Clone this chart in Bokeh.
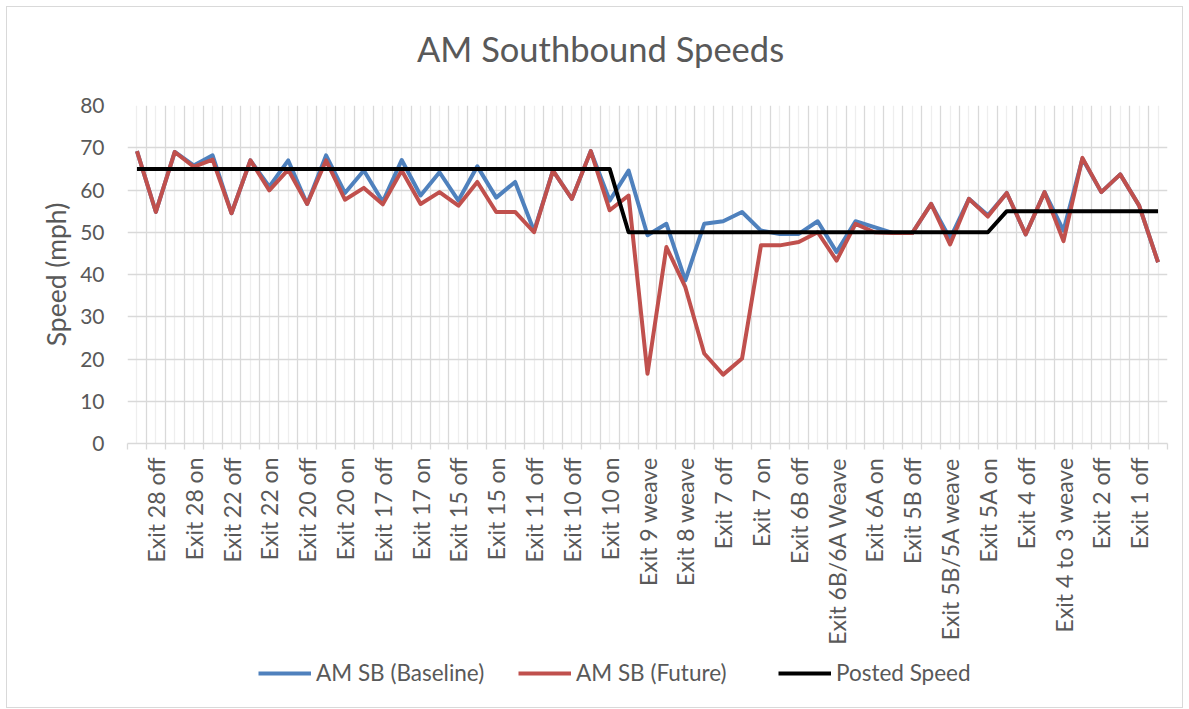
import math
from bokeh.plotting import figure
from bokeh.models import FixedTicker, Grid, Legend, LegendItem, Range1d, Label
from bokeh.layouts import column
from bokeh.embed import file_html
from bokeh.resources import INLINE

# Category labels shown on the axis (every other segment)
tick_labels = [
    "Exit 28 off", "Exit 28 on", "Exit 22 off", "Exit 22 on", "Exit 20 off",
    "Exit 20 on", "Exit 17 off", "Exit 17 on", "Exit 15 off", "Exit 15 on",
    "Exit 11 off", "Exit 10 off", "Exit 10 on", "Exit 9 weave", "Exit 8 weave",
    "Exit 7 off", "Exit 7 on", "Exit 6B off", "Exit 6B/6A Weave", "Exit 6A on",
    "Exit 5B off", "Exit 5B/5A weave", "Exit 5A on", "Exit 4 off",
    "Exit 4 to 3 weave", "Exit 2 off", "Exit 1 off",
]

baseline = [
    69.2, 54.8, 69.0, 65.8, 68.2, 54.5, 67.0, 60.8, 67.0, 56.7,
    68.2, 59.3, 64.6, 57.2, 67.1, 58.7, 64.2, 57.5, 65.6, 58.2,
    61.9, 50.3, 64.6, 57.9, 69.2, 57.5, 64.6, 49.3, 52.0, 38.6,
    52.0, 52.6, 54.8, 50.4, 49.6, 49.6, 52.6, 45.3, 52.6, 51.2,
    49.8, 49.8, 56.7, 48.5, 57.9, 54.0, 59.3, 49.5, 59.5, 50.4,
    67.4, 59.5, 63.7, 56.3, 42.9,
]

future = [
    69.2, 54.8, 69.0, 65.5, 67.2, 54.5, 67.0, 59.9, 64.8, 56.7,
    67.0, 57.7, 60.5, 56.6, 64.6, 56.7, 59.5, 56.3, 61.9, 54.8,
    54.8, 50.0, 64.6, 57.9, 69.2, 55.2, 58.7, 16.5, 46.5, 37.0,
    21.3, 16.3, 20.1, 46.9, 46.9, 47.7, 50.0, 43.3, 52.0, 50.0,
    49.8, 49.8, 56.7, 47.1, 57.9, 53.7, 59.3, 49.5, 59.5, 47.9,
    67.6, 59.5, 63.7, 56.3, 42.9,
]

posted = [65] * 26 + [50] * 20 + [55] * 9

series_names = ["AM SB (Baseline)", "AM SB (Future)", "Posted Speed"]
series_colors = ["#4F81BD", "#C0504D", "#000000"]
title_text = "AM Southbound Speeds"

n = len(baseline)
xs = list(range(1, n + 1))
all_series = [baseline, future, posted]
FONT = "Lato"
GRAY = "#595959"
W = 1175


def blank(h):
    f = figure(width=W, height=h, output_backend="svg", toolbar_location=None,
               x_axis_type=None, y_axis_type=None,
               x_range=Range1d(0, 1), y_range=Range1d(0, 1),
               min_border_left=120, min_border_right=15,
               min_border_top=0, min_border_bottom=0)
    f.outline_line_color = None
    f.background_fill_color = "white"
    f.border_fill_color = "white"
    return f


# ---- title strip (frame aligned with the chart frame: left edge at 120) ----
t = blank(70)
t.add_layout(Label(x=473, y=29, x_units="screen", y_units="screen", text=title_text,
                   text_align="center", text_baseline="middle", text_font=FONT,
                   text_font_size="34.5px", text_color=GRAY))

# ---- main chart ----
p = figure(width=W, height=580, output_backend="svg", toolbar_location=None,
           x_range=Range1d(0.5, n + 0.5), y_range=Range1d(0, 80),
           min_border_left=120, min_border_right=15,
           min_border_top=28, min_border_bottom=214)
p.outline_line_color = None
p.background_fill_color = "white"
p.border_fill_color = "white"

p.xgrid.grid_line_color = None
p.ygrid.grid_line_color = None
centers = [float(i) for i in xs]
bounds = [i + 0.5 for i in range(0, n + 1)]
p.add_layout(Grid(dimension=0, ticker=FixedTicker(ticks=centers),
                  grid_line_color="#eeeeee", grid_line_width=1.3))
p.add_layout(Grid(dimension=0, ticker=FixedTicker(ticks=bounds),
                  grid_line_color="#d9d9d9", grid_line_width=1.3))
p.add_layout(Grid(dimension=1, ticker=FixedTicker(ticks=list(range(0, 81, 10))),
                  grid_line_color="#d9d9d9", grid_line_width=1.3))

label_pos = [2 * (k + 1) for k in range(len(tick_labels))]
xa = p.xaxis[0]
xa.ticker = FixedTicker(ticks=label_pos, minor_ticks=bounds)
xa.major_label_overrides = {pos: lbl for pos, lbl in zip(label_pos, tick_labels)}
xa.major_label_orientation = math.pi / 2
xa.major_tick_out = 0
xa.major_tick_in = 0
xa.minor_tick_out = 6
xa.minor_tick_in = 0
xa.minor_tick_line_color = "#d9d9d9"
xa.minor_tick_line_width = 1.3
xa.axis_line_color = "#d9d9d9"
xa.axis_line_width = 1.3
xa.major_label_text_font = FONT
xa.major_label_text_font_size = "23px"
xa.major_label_text_color = GRAY
xa.major_label_standoff = 8

ya = p.yaxis[0]
ya.ticker = FixedTicker(ticks=list(range(0, 81, 10)))
ya.axis_line_color = None
ya.major_tick_out = 0
ya.major_tick_in = 0
ya.minor_tick_line_color = None
ya.major_label_text_font = FONT
ya.major_label_text_font_size = "21px"
ya.major_label_text_color = GRAY
ya.major_label_standoff = 23
ya.axis_label = "Speed (mph)"
ya.axis_label_text_font = FONT
ya.axis_label_text_font_size = "26.5px"
ya.axis_label_text_font_style = "normal"
ya.axis_label_text_color = GRAY
ya.axis_label_standoff = 5

for ys, col in zip(all_series, series_colors):
    p.line(xs, ys, line_color=col, line_width=4, line_join="round")

# ---- legend strip: same series drawn out of view, only the legend shows ----
q = blank(50)
leg_renderers = [q.line(xs, ys, line_color=col, line_width=4)
                 for ys, col in zip(all_series, series_colors)]
legend = Legend(items=[LegendItem(label=nm, renderers=[r]) for nm, r in zip(series_names, leg_renderers)],
                orientation="horizontal", location=(131, 21),
                label_text_font=FONT, label_text_font_size="22.5px", label_text_color=GRAY,
                glyph_width=53, glyph_height=20, label_standoff=5, label_width=200, spacing=2,
                padding=0, margin=0, border_line_color=None, background_fill_alpha=0)
q.add_layout(legend, "center")

layout = column(t, p, q, spacing=0)
layout.styles = {"border": "1px solid #d9d9d9", "margin-left": "6px", "margin-top": "6px"}

open("out.html", "w").write(file_html(layout, INLINE))
